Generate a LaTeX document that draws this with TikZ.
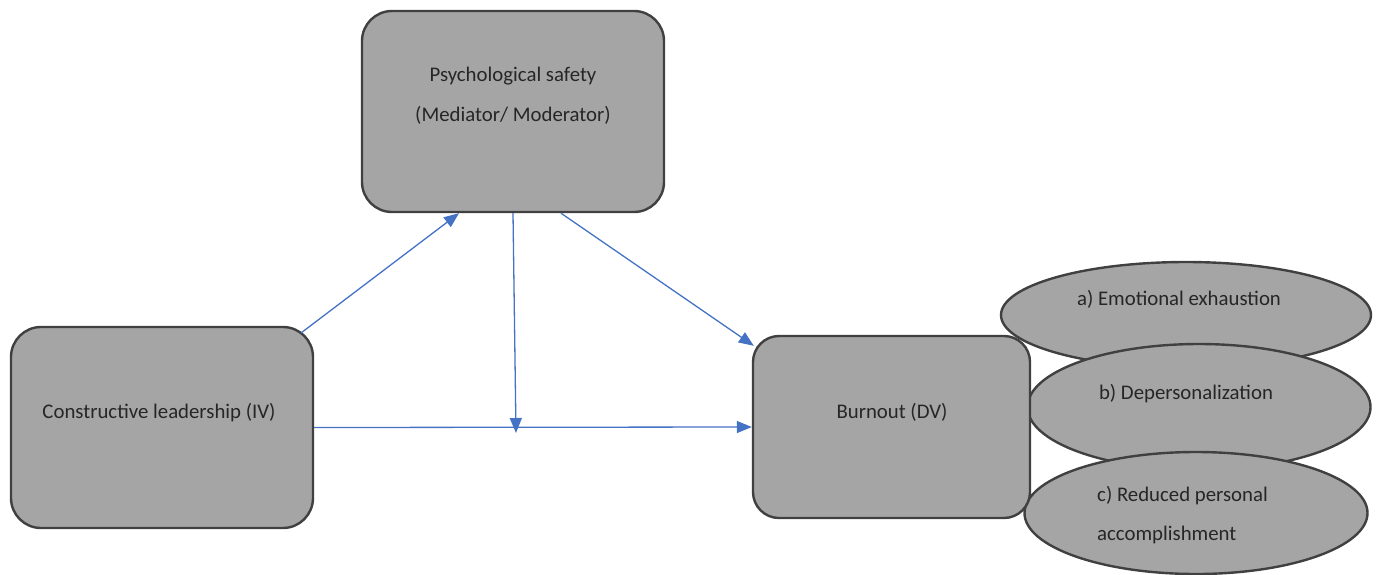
\documentclass[tikz,border=0pt]{standalone}
\usepackage{fontspec}
\setmainfont{Carlito}
\usetikzlibrary{arrows.meta,shapes.geometric}
\definecolor{boxfill}{HTML}{A5A5A5}
\definecolor{boxline}{HTML}{404040}
\definecolor{arrowblue}{HTML}{4472C4}
\begin{document}
\begin{tikzpicture}[x=1pt,y=-1pt,
  box/.style={draw=boxline,fill=boxfill,line width=2.4pt,rounded corners=30pt,inner sep=0pt},
  oval/.style={draw=boxline,fill=boxfill,line width=2.4pt,ellipse,inner sep=0pt},
  txt/.style={font=\fontsize{20.8}{24}\selectfont,text=black!85,inner sep=0pt},
  conn/.style={draw=arrowblue,line width=1.3pt,-{Triangle[length=15pt,width=12pt]}}]
\useasboundingbox (0,0) rectangle (1381,574);
% ellipses
\node[oval,minimum width=370pt,minimum height=106pt] (ea) at (1186,315) {};
\node[oval,minimum width=343pt,minimum height=126pt] (eb) at (1199,407) {};
\node[oval,minimum width=343pt,minimum height=122pt] (ec) at (1196,513) {};
% boxes
\node[box,minimum width=302pt,minimum height=201pt] (T) at (513,111.5) {};
\node[box,minimum width=302pt,minimum height=201pt] (L) at (162,427.5) {};
\node[box,rounded corners=26pt,minimum width=277pt,minimum height=182pt] (B) at (891.5,427) {};
% texts
\node[txt] (t1) at (513,76) {Psychological safety};
\node[txt] (t2) at (513,115) {(Mediator/ Moderator)};
\node[txt] (tl) at (159,413) {Constructive leadership (IV)};
\node[txt] (tb) at (892,412) {Burnout (DV)};
\node[txt] (ta) at (1179,299) {a) Emotional exhaustion};
\node[txt] (tbb) at (1186,394) {b) Depersonalization};
\node[txt,anchor=west] (tc1) at (1097,496) {c) Reduced personal};
\node[txt,anchor=west] (tc2) at (1097,535) {accomplishment};
% connectors
\coordinate (M) at (516,433);
\draw[conn] ([xshift=-13pt,yshift=-7pt]L.north east) -- ([xshift=-54pt]T.south);
\draw[conn] (T.south) -- (M);
\draw[conn] ([xshift=48pt]T.south) -- ([xshift=2pt,yshift=-11pt]B.north west);
\draw[conn] (L.east) -- (B.west);
\end{tikzpicture}
\end{document}
